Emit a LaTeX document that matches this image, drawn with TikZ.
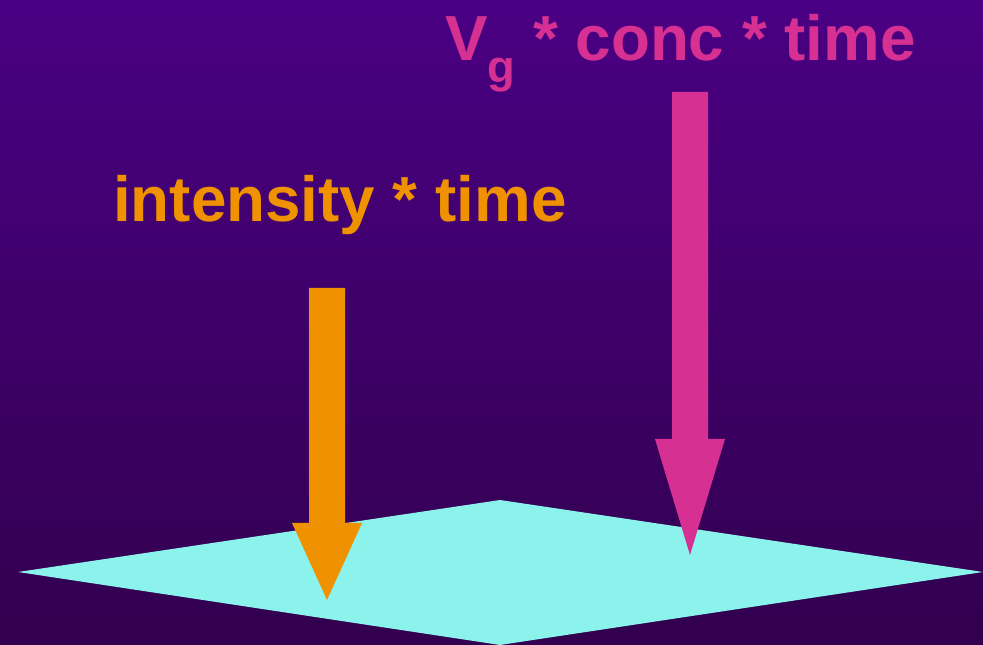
\documentclass[tikz,border=0pt]{standalone}
\usepackage{fontspec}
\setmainfont{Liberation Sans}
\definecolor{bgtop}{HTML}{4A0083}
\definecolor{bgbottom}{HTML}{32004E}
\definecolor{planecyan}{HTML}{8CF2EC}
\definecolor{lightorange}{HTML}{F09200}
\definecolor{gaspink}{HTML}{D63092}
% block arrow pointing down: #1 colour, #2 centre x, #3 top y, #4 head y, #5 tip y
\newcommand{\downarrowblock}[5]{%
  \fill[#1] (#2-18,#3) -- (#2+18,#3) -- (#2+18,#4) -- (#2+35,#4)
    -- (#2,#5) -- (#2-35,#4) -- (#2-18,#4) -- cycle;}
\begin{document}
\begin{tikzpicture}[
        x=0.75pt, y=-0.75pt,
        every node/.style={font=\bfseries\fontsize{47.8}{50}\selectfont, inner sep=0pt},
        label text/.style={anchor=base west}
    ]
        % background
        \shade[top color=bgtop, bottom color=bgbottom] (0,0) rectangle (983,645);
        \useasboundingbox (0,0) rectangle (983,645);

        % surface
        \fill[planecyan] (18,572) -- (500,500) -- (983,572) -- (500,645) -- cycle;

        % arrows
        \downarrowblock{lightorange}{327}{288}{523}{600}
        \downarrowblock{gaspink}{690}{92}{439}{555}

        % labels
        \node[label text, text=lightorange] (light) at (113,222) {intensity * time};
        \node[label text, text=gaspink] (gas) at (445,61)
            {V\raisebox{-0.33em}{\fontsize{34}{36}\selectfont g} * conc * time};
    \end{tikzpicture}
\end{document}
